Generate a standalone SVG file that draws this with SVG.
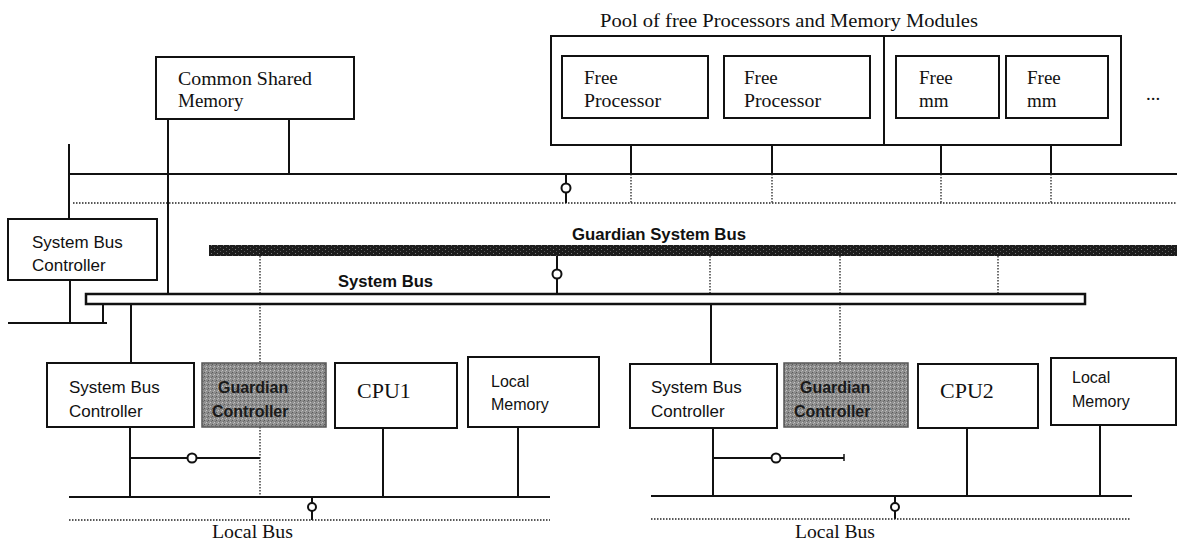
<svg xmlns="http://www.w3.org/2000/svg" width="1177" height="545" viewBox="0 0 1177 545">
<style>
.box{fill:#fff;stroke:#111;stroke-width:2}
.gbox{fill:url(#stip);stroke:#555;stroke-width:1.5}
.ln{stroke:#111;stroke-width:2;fill:none}
.dot{stroke:#222;stroke-width:1.3;stroke-dasharray:1.5 1.5;fill:none}
.node{fill:#fff;stroke:#111;stroke-width:2}
.serif{font-family:"Liberation Serif","Times New Roman",serif;font-size:19px;fill:#111}
.sans{font-family:"Liberation Sans",Arial,sans-serif;font-size:17px;fill:#111}
.bold{font-family:"Liberation Sans",Arial,sans-serif;font-size:16px;font-weight:bold;fill:#111}
.gtxt{font-family:"Liberation Sans",Arial,sans-serif;font-size:16px;font-weight:bold;fill:#1a1a1a}
</style>
<defs>
<pattern id="stip" width="4" height="4" patternUnits="userSpaceOnUse">
<rect width="4" height="4" fill="#8e8e8e"/>
<rect x="0" y="0" width="1" height="1" fill="#5a5a5a"/>
<rect x="2" y="2" width="1" height="1" fill="#c4c4c4"/>
<rect x="3" y="1" width="1" height="1" fill="#6e6e6e"/>
<rect x="1" y="3" width="1" height="1" fill="#b0b0b0"/>
</pattern>
<pattern id="gbus" width="6" height="4" patternUnits="userSpaceOnUse">
<rect width="6" height="4" fill="#1c1c1c"/>
<rect x="1" y="1" width="1" height="1" fill="#777"/>
<rect x="4" y="3" width="1" height="1" fill="#555"/>
</pattern>
</defs>

<g id="connectors">
<!-- top solid bus and dotted bus -->
<line class="ln" x1="69" y1="174" x2="1177" y2="174"/>
<line class="dot" x1="73" y1="203" x2="1177" y2="203"/>
<line class="ln" x1="69" y1="144" x2="69" y2="219"/>
<!-- common shared memory -->
<line class="ln" x1="168" y1="119" x2="168" y2="294"/>
<line class="ln" x1="289" y1="119" x2="289" y2="174"/>
<!-- free modules -->
<line class="ln" x1="631" y1="118" x2="631" y2="174"/>
<line class="ln" x1="772" y1="118" x2="772" y2="174"/>
<line class="ln" x1="941" y1="118" x2="941" y2="174"/>
<line class="ln" x1="1051" y1="118" x2="1051" y2="174"/>
<line class="dot" x1="631" y1="174" x2="631" y2="203"/>
<line class="dot" x1="772" y1="174" x2="772" y2="203"/>
<line class="dot" x1="941" y1="174" x2="941" y2="203"/>
<line class="dot" x1="1051" y1="174" x2="1051" y2="203"/>
<line class="ln" x1="566" y1="174" x2="566" y2="203"/>
<circle class="node" cx="566" cy="188" r="4.5"/>
<!-- left system bus controller -->
<line class="ln" x1="70" y1="280" x2="70" y2="323"/>
<line class="ln" x1="8" y1="323" x2="107" y2="323"/>
<line class="ln" x1="103" y1="304" x2="103" y2="323"/>
<!-- guardian bus to system bus -->
<line class="ln" x1="557" y1="256" x2="557" y2="294"/>
<circle class="node" cx="557" cy="274" r="4.5"/>
<line class="dot" x1="260" y1="256" x2="260" y2="294"/>
<line class="dot" x1="710" y1="256" x2="710" y2="294"/>
<line class="dot" x1="840" y1="256" x2="840" y2="294"/>
<line class="dot" x1="998" y1="256" x2="998" y2="294"/>
<!-- system bus down to modules -->
<line class="ln" x1="131" y1="304" x2="131" y2="363"/>
<line class="dot" x1="260" y1="304" x2="260" y2="363"/>
<line class="ln" x1="711" y1="304" x2="711" y2="364"/>
<line class="dot" x1="840" y1="304" x2="840" y2="363"/>
<!-- left local group -->
<line class="ln" x1="130" y1="427" x2="130" y2="497"/>
<line class="ln" x1="130" y1="458" x2="260" y2="458"/>
<circle class="node" cx="192" cy="458" r="4.5"/>
<line class="dot" x1="260" y1="427" x2="260" y2="497"/>
<line class="ln" x1="383" y1="428" x2="383" y2="497"/>
<line class="ln" x1="518" y1="427" x2="518" y2="497"/>
<line class="ln" x1="69" y1="497" x2="550" y2="497"/>
<line class="ln" x1="312" y1="497" x2="312" y2="520"/>
<circle class="node" cx="312" cy="507" r="4"/>
<line class="dot" x1="69" y1="520" x2="550" y2="520"/>
<!-- right local group -->
<line class="ln" x1="713" y1="428" x2="713" y2="496"/>
<line class="ln" x1="713" y1="458" x2="844" y2="458"/>
<line class="ln" x1="844" y1="454" x2="844" y2="461" style="stroke-width:1.5"/>
<circle class="node" cx="776" cy="458" r="4.5"/>
<line class="ln" x1="967" y1="428" x2="967" y2="496"/>
<line class="ln" x1="1100" y1="425" x2="1100" y2="496"/>
<line class="ln" x1="651" y1="496" x2="1132" y2="496"/>
<line class="ln" x1="895" y1="496" x2="895" y2="519"/>
<circle class="node" cx="895" cy="507" r="4"/>
<line class="dot" x1="651" y1="519" x2="1130" y2="519"/>
</g>

<g id="guardian-system-bus">
<rect x="209" y="245" width="968" height="11" fill="url(#gbus)"/>
<text class="bold" x="572" y="240" textLength="174" lengthAdjust="spacingAndGlyphs">Guardian System Bus</text>
</g>
<g id="system-bus">
<rect x="86" y="294" width="999" height="10" fill="#fff" stroke="#111" stroke-width="2.5"/>
<text class="bold" x="338" y="287" textLength="95" lengthAdjust="spacingAndGlyphs">System Bus</text>
</g>

<g id="common-shared-memory">
<rect class="box" x="156" y="57" width="198" height="62"/>
<text class="serif" x="178" y="85" textLength="134" lengthAdjust="spacingAndGlyphs">Common Shared</text>
<text class="serif" x="178" y="107">Memory</text>
</g>

<g id="pool">
<text class="serif" x="600" y="27" textLength="378" lengthAdjust="spacingAndGlyphs" style="font-size:18px">Pool of free Processors and Memory Modules</text>
<rect class="box" x="551" y="36" width="570" height="109" fill="none"/>
<line class="ln" x1="884" y1="36" x2="884" y2="145"/>
<text class="serif" x="1146" y="100">...</text>
</g>
<g id="free-processor-1">
<rect class="box" x="562" y="56" width="146" height="62"/>
<text class="serif" x="584" y="84">Free</text>
<text class="serif" x="584" y="107" textLength="77" lengthAdjust="spacingAndGlyphs">Processor</text>
</g>
<g id="free-processor-2">
<rect class="box" x="724" y="56" width="146" height="62"/>
<text class="serif" x="744" y="84">Free</text>
<text class="serif" x="744" y="107" textLength="77" lengthAdjust="spacingAndGlyphs">Processor</text>
</g>
<g id="free-mm-1">
<rect class="box" x="896" y="56" width="103" height="62"/>
<text class="serif" x="919" y="84">Free</text>
<text class="serif" x="919" y="107">mm</text>
</g>
<g id="free-mm-2">
<rect class="box" x="1006" y="56" width="102" height="62"/>
<text class="serif" x="1027" y="84">Free</text>
<text class="serif" x="1027" y="107">mm</text>
</g>

<g id="system-bus-controller-0">
<rect class="box" x="8" y="219" width="149" height="61"/>
<text class="sans" x="32" y="248">System Bus</text>
<text class="sans" x="32" y="271">Controller</text>
</g>

<g id="system-bus-controller-1">
<rect class="box" x="47" y="363" width="147" height="64"/>
<text class="sans" x="69" y="393">System Bus</text>
<text class="sans" x="69" y="417">Controller</text>
</g>
<g id="guardian-controller-1">
<rect class="gbox" x="202" y="363" width="124" height="64"/>
<text class="gtxt" x="218" y="393">Guardian</text>
<text class="gtxt" x="212" y="417">Controller</text>
</g>
<g id="cpu1">
<rect class="box" x="335" y="363" width="122" height="65"/>
<text class="serif" x="357" y="398" style="font-size:22px">CPU1</text>
</g>
<g id="local-memory-1">
<rect class="box" x="468" y="357" width="131" height="70"/>
<text class="sans" x="491" y="387" style="font-size:16px">Local</text>
<text class="sans" x="491" y="410" style="font-size:16px">Memory</text>
</g>
<g id="local-bus-1">
<text class="serif" x="212" y="538" textLength="81" lengthAdjust="spacingAndGlyphs">Local Bus</text>
</g>

<g id="system-bus-controller-2">
<rect class="box" x="630" y="364" width="147" height="64"/>
<text class="sans" x="651" y="393">System Bus</text>
<text class="sans" x="651" y="417">Controller</text>
</g>
<g id="guardian-controller-2">
<rect class="gbox" x="784" y="363" width="124" height="64"/>
<text class="gtxt" x="800" y="393">Guardian</text>
<text class="gtxt" x="794" y="417">Controller</text>
</g>
<g id="cpu2">
<rect class="box" x="918" y="364" width="120" height="64"/>
<text class="serif" x="940" y="398" style="font-size:22px">CPU2</text>
</g>
<g id="local-memory-2">
<rect class="box" x="1051" y="358" width="125" height="67"/>
<text class="sans" x="1072" y="383" style="font-size:16px">Local</text>
<text class="sans" x="1072" y="407" style="font-size:16px">Memory</text>
</g>
<g id="local-bus-2">
<text class="serif" x="795" y="538" textLength="80" lengthAdjust="spacingAndGlyphs">Local Bus</text>
</g>
</svg>
